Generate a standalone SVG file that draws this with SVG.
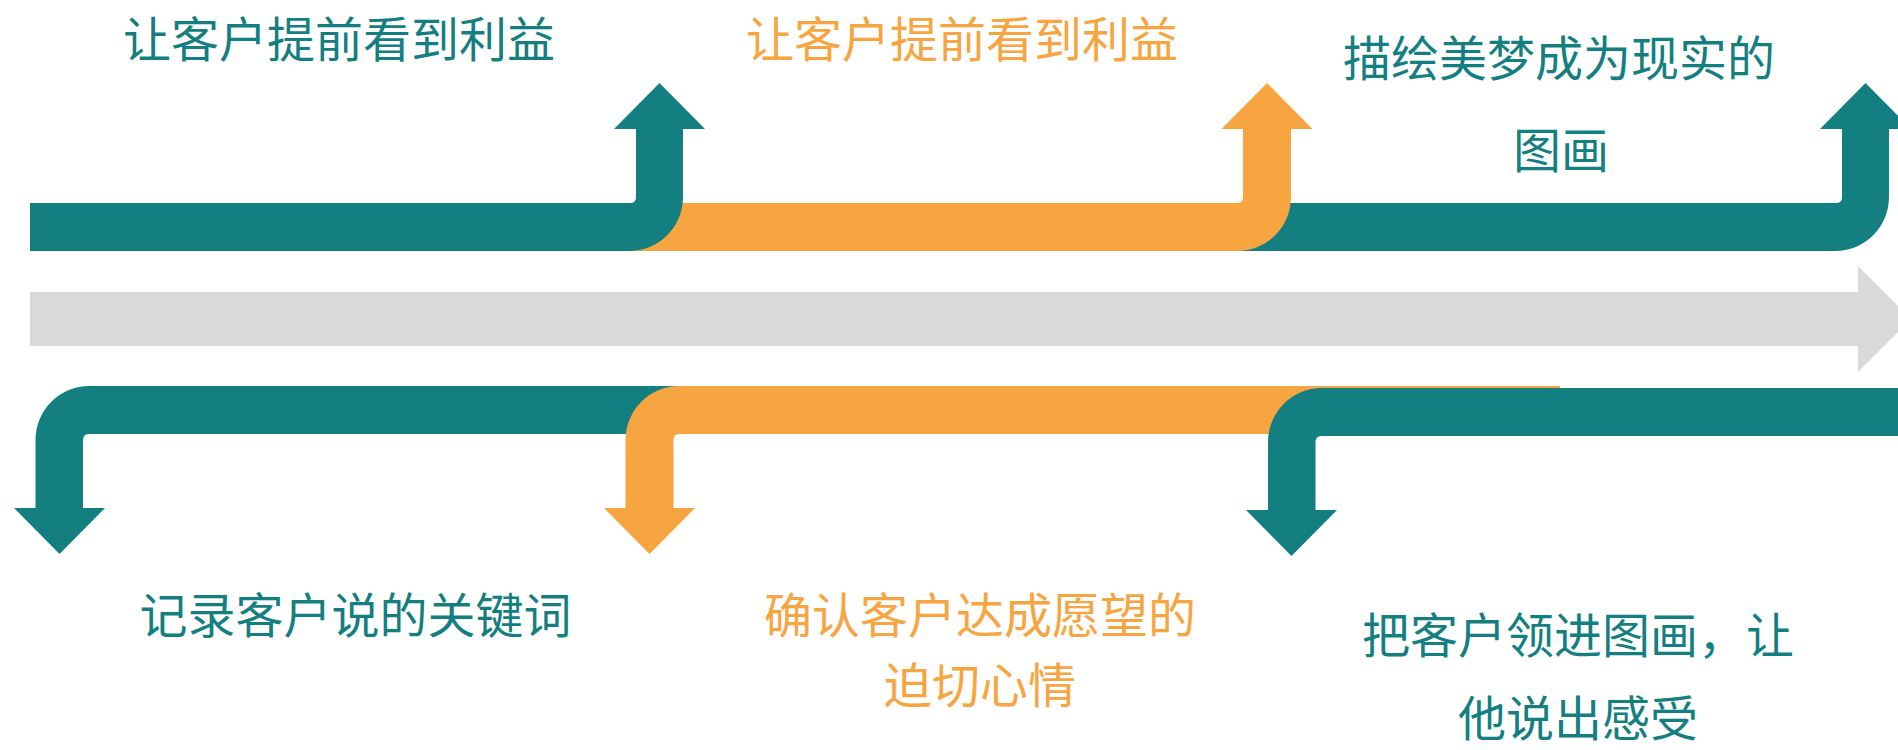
<svg xmlns="http://www.w3.org/2000/svg" width="1898" height="750" viewBox="0 0 1898 750">
  <style>
    .teal { fill: #147F80; }
    .orange { fill: #F7A541; }
    .grey { fill: #D9D9D9; }
    .lbl { font-family: "Noto Sans CJK SC", "Noto Sans CJK JP", sans-serif; font-size: 48px; text-anchor: middle; }
    .lt { fill: #147F80; }
    .lo { fill: #F7A541; }
  </style>
  <rect width="1898" height="750" fill="#FFFFFF"/>

  <!-- central timeline -->
  <g id="timeline">
    <path class="grey" d="M30,292 H1858 V266 L1911,319 L1858,372 V346 H30 Z"/>
  </g>

  <!-- top row (drawn right to left for overlap) -->
  <g id="step-top-3">
    <path class="teal" d="M1220,203 H1836 Q1842,203 1842,197 V129 H1820 L1865.5,83 L1911,129 H1889 V197 A54,54 0 0 1 1835,251 H1220 Z"/>
    <text class="lbl lt" x="1559" y="76">描绘美梦成为现实的</text>
    <text class="lbl lt" x="1561" y="168">图画</text>
  </g>
  <g id="step-top-2">
    <path class="orange" d="M600,203 H1237 Q1243,203 1243,197 V129 H1221.5 L1267,83 L1312.5,129 H1291 V197 A54,54 0 0 1 1237,251 H600 Z"/>
    <text class="lbl lo" x="962" y="57">让客户提前看到利益</text>
  </g>
  <g id="step-top-1">
    <path class="teal" d="M30,203 H630 Q636,203 636,197 V129 H614 L659.5,83 L705,129 H683 V197 A54,54 0 0 1 629,251 H30 Z"/>
    <text class="lbl lt" x="339" y="57">让客户提前看到利益</text>
  </g>

  <!-- bottom row (drawn left to right for overlap) -->
  <g id="step-bottom-1">
    <path class="teal" d="M1005,386 H89.5 A54,54 0 0 0 35.5,440 V508 H14 L59.5,554 L105,508 H83 V440 Q83,434 89,434 H1005 Z"/>
    <text class="lbl lt" x="355.5" y="633">记录客户说的关键词</text>
  </g>
  <g id="step-bottom-2">
    <path class="orange" d="M1560,386 H679.5 A54,54 0 0 0 625.5,440 V508 H604 L649.5,554 L695,508 H673.5 V440 Q673.5,434 679.5,434 H1560 Z"/>
    <text class="lbl lo" x="980" y="633">确认客户达成愿望的</text>
    <text class="lbl lo" x="980" y="703">迫切心情</text>
  </g>
  <g id="step-bottom-3">
    <path class="teal" d="M1910,388 H1322 A54,54 0 0 0 1268,442 V510 H1246 L1291.5,556 L1337,510 H1315.5 V442 Q1315.5,436 1321.5,436 H1910 Z"/>
    <text class="lbl lt" x="1578" y="653">把客户领进图画，让</text>
    <text class="lbl lt" x="1578" y="736">他说出感受</text>
  </g>

  <g id="connectors"/>
</svg>
